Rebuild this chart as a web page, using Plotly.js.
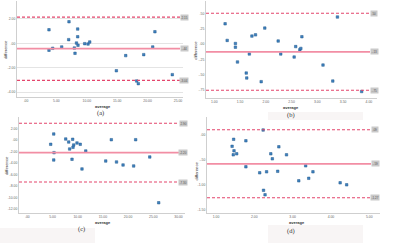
<!DOCTYPE html>
<html><head><meta charset="utf-8">
<script src="https://cdn.plot.ly/plotly-3.0.1.min.js"></script>
<style>html,body{margin:0;padding:0;background:#fff}#chart{width:400px;height:243px}</style>
</head><body><div id="chart"></div>
<script>
// ---- data ----
const aAvg  = [3.78,3.78,4.39,5.87,7.07,7.02,8.5,8.5,8.3,8.55,7.95,8.06,9.65,10.2,10.48,14.86,16.4,18.2,18.47,19.36,20.84,21.2,24.06];
const aDiff = [1.11,-0.57,-0.41,-0.30,1.77,0.30,1.17,0.54,0.02,-0.16,-0.39,-0.82,-0.03,-0.06,0.11,-2.25,-1.01,-3.09,-3.31,-0.93,-0.30,0.95,-2.57];
const bAvg  = [1.21,1.25,1.41,1.41,1.45,1.68,1.62,1.63,1.73,1.80,1.91,1.98,2.24,2.29,2.55,2.58,2.66,2.68,2.70,3.11,3.30,3.39,3.86];
const bDiff = [0.33,0.06,0.01,-0.05,-0.29,-0.16,-0.47,-0.55,0.13,0.15,-0.61,0.26,0.05,-0.16,-0.21,-0.04,-0.09,-0.07,0.12,-0.34,-0.60,0.44,-0.77];
const cAvg  = [5.24,4.64,5.3,5.24,7.62,8.21,9.0,9.2,9.07,8.4,9.86,10.5,8.87,10.85,11.6,15.56,16.67,17.7,19.0,21.1,21.5,24.3,26.07];
const cDiff = [1.04,-0.75,-2.2,-3.47,0.17,-0.35,0.12,-0.87,-1.27,-1.56,-0.52,-0.75,-3.35,-5.03,-1.91,-3.65,0.05,-3.82,-4.34,-4.51,0.05,-2.95,-10.9];
const dAvg  = [2.23,1.46,1.78,1.42,1.47,1.54,1.45,2.64,2.43,2.47,2.84,1.78,2.14,2.32,2.61,2.24,2.28,3.16,3.34,3.42,3.53,4.24,4.41];
const dDiff = [0.086,-0.10,-0.13,-0.24,-0.33,-0.39,-0.41,-0.25,-0.39,-0.49,-0.41,-0.65,-0.77,-0.75,-0.74,-1.12,-1.21,-0.93,-0.63,-0.88,-0.75,-0.97,-1.01];
// limits: [upper, mean, lower]
const aLimits = [2.15,-0.44,-3.04];
const bLimits = [0.50,-0.125,-0.75];
const cLimits = [2.90,-2.20,-7.30];
const dLimits = [0.09,-0.59,-1.27];
const limitLabels = {a:["2.15","-.44","-3.04"], b:[".50","-.13","-.75"], c:["2.90","-2.20","-7.30"], d:[".09","-.59","-1.27"]};
// ticks
const aXTicks=[0,5,10,15,20,25], aXText=[".00","5.00","10.00","15.00","20.00","25.00"];
const aYTicks=[2,0,-2,-4], aYText=["2.00",".00","-2.00","-4.00"];
const bXTicks=[1,1.5,2,2.5,3,3.5,4], bXText=["1.00","1.50","2.00","2.50","3.00","3.50","4.00"];
const bYTicks=[0.5,0.25,0,-0.25,-0.5,-0.75], bYText=[".50",".25",".00","-.25","-.50","-.75"];
const cXTicks=[0,5,10,15,20,25,30], cXText=[".00","5.00","10.00","15.00","20.00","25.00","30.00"];
const cYTicks=[2,0,-2,-4,-6,-8,-10,-12], cYText=["2.00",".00","-2.00","-4.00","-6.00","-8.00","-10.00","-12.00"];
const dXTicks=[1,2,3,4,5], dXText=["1.00","2.00","3.00","4.00","5.00"];
const dYTicks=[0,-0.5,-1,-1.5], dYText=[".00","-.50","-1.00","-1.50"];
const captions=["(a)","(b)","(c)","(d)"];
const xTitle="average", yTitle="difference";

// ---- layout geometry (pixels) ----
const W=400,H=243;
const panels=[
 {id:'a',avg:aAvg,diff:aDiff,lim:aLimits,xt:aXTicks,xtt:aXText,yt:aYTicks,ytt:aYText,px:[17,183],py:[1,97.3],xr:[-1.48,25.82],yr:[-4.43,3.47],grid:true,boxX:184,lineEnd:180,cap:[100,113.5],xtl:[103,106],ytl:[6,50]},
 {id:'b',avg:bAvg,diff:bDiff,lim:bLimits,xt:bXTicks,xtt:bXText,yt:bYTicks,ytt:bYText,px:[206,377],py:[1,98.3],xr:[0.839,4.158],yr:[-0.88,0.70],grid:false,boxX:374,lineEnd:370,cap:[290.7,114.5],xtl:[290.7,107.3],ytl:[195.7,50]},
 {id:'c',avg:cAvg,diff:cDiff,lim:cLimits,xt:cXTicks,xtt:cXText,yt:cYTicks,ytt:cYText,px:[19,185],py:[117,213.3],xr:[-1.65,31.29],yr:[-12.73,3.99],grid:false,boxX:183,lineEnd:179,cap:[81.7,229],xtl:[103.3,222.2],ytl:[6,166]},
 {id:'d',avg:dAvg,diff:dDiff,lim:dLimits,xt:dXTicks,xtt:dXText,yt:dYTicks,ytt:dYText,px:[207,380],py:[117,213.3],xr:[0.765,5.28],yr:[-1.58,0.346],grid:false,boxX:375,lineEnd:371,cap:[290.7,231],xtl:[296.7,222.7],ytl:[195.5,171]}
];

const traces=[], shapes=[], annotations=[];
const layout={width:W,height:H,margin:{l:0,r:0,t:0,b:0},paper_bgcolor:'#fff',plot_bgcolor:'rgba(0,0,0,0)',showlegend:false,
  font:{family:'Arial, Liberation Sans, sans-serif',size:4,color:'#555'}};

// faint boxes under captions
[[0,228,95,243],[268,225,363,243],[268,112,363,120]].forEach(r=>{
  shapes.push({type:'rect',xref:'paper',yref:'paper',x0:r[0]/W,x1:r[2]/W,y0:1-r[3]/H,y1:1-r[1]/H,fillcolor:'#f8f5f5',line:{width:0},layer:'below'});
});

panels.forEach((p,i)=>{
  const n=i===0?'':String(i+1);
  const xa='x'+n, ya='y'+n;
  layout['xaxis'+n]={domain:[p.px[0]/W,p.px[1]/W],anchor:ya,range:p.xr,tickvals:p.xt,ticktext:p.xtt,showgrid:false,zeroline:false,
     showline:true,linecolor:'#cfcfcf',linewidth:1,ticks:'',tickfont:{size:3.4,color:'#666'},fixedrange:true};
  layout['yaxis'+n]={domain:[1-p.py[1]/H,1-p.py[0]/H],anchor:xa,range:p.yr,tickvals:p.yt,ticktext:p.ytt,showgrid:p.grid,gridcolor:'#e4e4e4',gridwidth:1,zeroline:false,
     showline:true,linecolor:'#cfcfcf',linewidth:1,ticks:'',tickfont:{size:3.4,color:'#666'},fixedrange:true};
  traces.push({type:'scatter',mode:'markers',x:p.avg,y:p.diff,xaxis:xa,yaxis:ya,
     marker:{symbol:'square',size:2.5,color:'#3f82c0',line:{width:0.5,color:'#245a8c'}},hoverinfo:'skip'});
  const x1=(p.lineEnd-p.px[0])/(p.px[1]-p.px[0]);
  const bx=(p.boxX-p.px[0])/(p.px[1]-p.px[0]);
  p.lim.forEach((v,k)=>{
    const isMean=k===1;
    shapes.push({type:'line',xref:xa+' domain',yref:ya,x0:0,x1:x1,y0:v,y1:v,
      line:isMean?{color:'#f28ea4',width:1.8}:{color:'#e4466c',width:1.1,dash:'3px,2px'}});
    annotations.push({xref:xa+' domain',yref:ya,x:bx,y:v,text:limitLabels[p.id][k],showarrow:false,xanchor:'center',yanchor:'middle',
      font:{size:3,color:'#555'},bgcolor:'#c9c9c9',borderpad:0.6});
  });
  annotations.push({xref:'paper',yref:'paper',x:p.xtl[0]/W,y:1-p.xtl[1]/H,text:xTitle,showarrow:false,xanchor:'center',yanchor:'middle',
    font:{size:4,color:'#333',weight:'bold'}});
  annotations.push({xref:'paper',yref:'paper',x:p.ytl[0]/W,y:1-p.ytl[1]/H,text:yTitle,textangle:-90,showarrow:false,xanchor:'center',yanchor:'middle',
    font:{size:4.2,color:'#333'}});
  annotations.push({xref:'paper',yref:'paper',x:p.cap[0]/W,y:1-p.cap[1]/H,text:captions[i],showarrow:false,xanchor:'center',yanchor:'middle',
    font:{size:6.5,color:'#333',family:'Liberation Serif, Times New Roman, serif'}});
});
layout.shapes=shapes; layout.annotations=annotations;
Plotly.newPlot('chart',traces,layout,{staticPlot:true,displayModeBar:false});
</script></body></html>
